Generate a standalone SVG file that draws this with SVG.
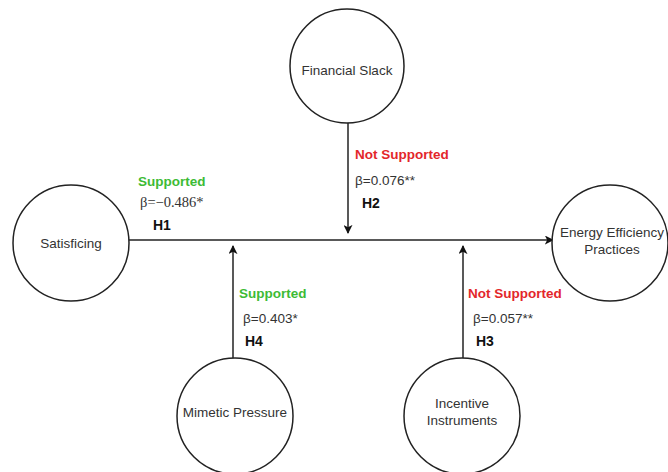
<svg xmlns="http://www.w3.org/2000/svg" width="668" height="472" viewBox="0 0 668 472">
<defs>
<style>
.node{fill:#fff;stroke:#222;stroke-width:1.5}
.nt{font-family:"Liberation Sans",Arial,sans-serif;font-size:13.5px;fill:#333;text-anchor:middle}
.ln{stroke:#222;stroke-width:1.5;fill:none}
.g{font-family:"Liberation Sans",Arial,sans-serif;font-size:13.5px;font-weight:bold;fill:#3dbb35}
.r{font-family:"Liberation Sans",Arial,sans-serif;font-size:13.5px;font-weight:bold;fill:#e3262a}
.b{font-family:"Liberation Sans",Arial,sans-serif;font-size:13.5px;fill:#333}
.bs{font-family:"Liberation Serif","Times New Roman",serif;font-size:14.5px;fill:#333}
.h{font-family:"Liberation Sans",Arial,sans-serif;font-size:14px;font-weight:bold;fill:#111}
</style>
<marker id="ah" viewBox="0 0 10 10" refX="9" refY="5" markerWidth="9" markerHeight="9" markerUnits="userSpaceOnUse" orient="auto">
<path d="M0,0 L10,5 L0,10 L2.5,5 Z" fill="#111"/>
</marker>
</defs>
<rect width="668" height="472" fill="#fff"/>
<g id="connectors">
<line class="ln" x1="129" y1="240" x2="553" y2="240" marker-end="url(#ah)"/>
<line class="ln" x1="348" y1="123" x2="348" y2="233" marker-end="url(#ah)"/>
<line class="ln" x1="233" y1="358" x2="233" y2="246" marker-end="url(#ah)"/>
<line class="ln" x1="463" y1="358" x2="463" y2="246" marker-end="url(#ah)"/>
</g>
<g id="satisficing">
<circle class="node" cx="71" cy="243" r="58"/>
<text class="nt" x="71" y="248">Satisficing</text>
</g>
<g id="financial-slack">
<circle class="node" cx="347" cy="66" r="57"/>
<text class="nt" x="347" y="75">Financial Slack</text>
</g>
<g id="energy-efficiency">
<circle class="node" cx="610" cy="243" r="58"/>
<text class="nt" x="612" y="237">Energy Efficiency</text>
<text class="nt" x="612" y="254">Practices</text>
</g>
<g id="mimetic-pressure">
<circle class="node" cx="235" cy="416" r="58"/>
<text class="nt" x="235" y="417">Mimetic Pressure</text>
</g>
<g id="incentive-instruments">
<circle class="node" cx="462" cy="416" r="58"/>
<text class="nt" x="462" y="408">Incentive</text>
<text class="nt" x="462" y="425">Instruments</text>
</g>
<g id="labels">
<text class="g" x="138" y="186">Supported</text>
<text class="bs" x="140" y="207">β=−0.486*</text>
<text class="h" x="153" y="230">H1</text>
<text class="r" x="355" y="159">Not Supported</text>
<text class="b" x="355" y="185">β=0.076**</text>
<text class="h" x="362" y="208">H2</text>
<text class="g" x="239" y="298">Supported</text>
<text class="b" x="243" y="323">β=0.403*</text>
<text class="h" x="245" y="346">H4</text>
<text class="r" x="468" y="298">Not Supported</text>
<text class="b" x="473" y="323">β=0.057**</text>
<text class="h" x="476" y="346">H3</text>
</g>
</svg>
